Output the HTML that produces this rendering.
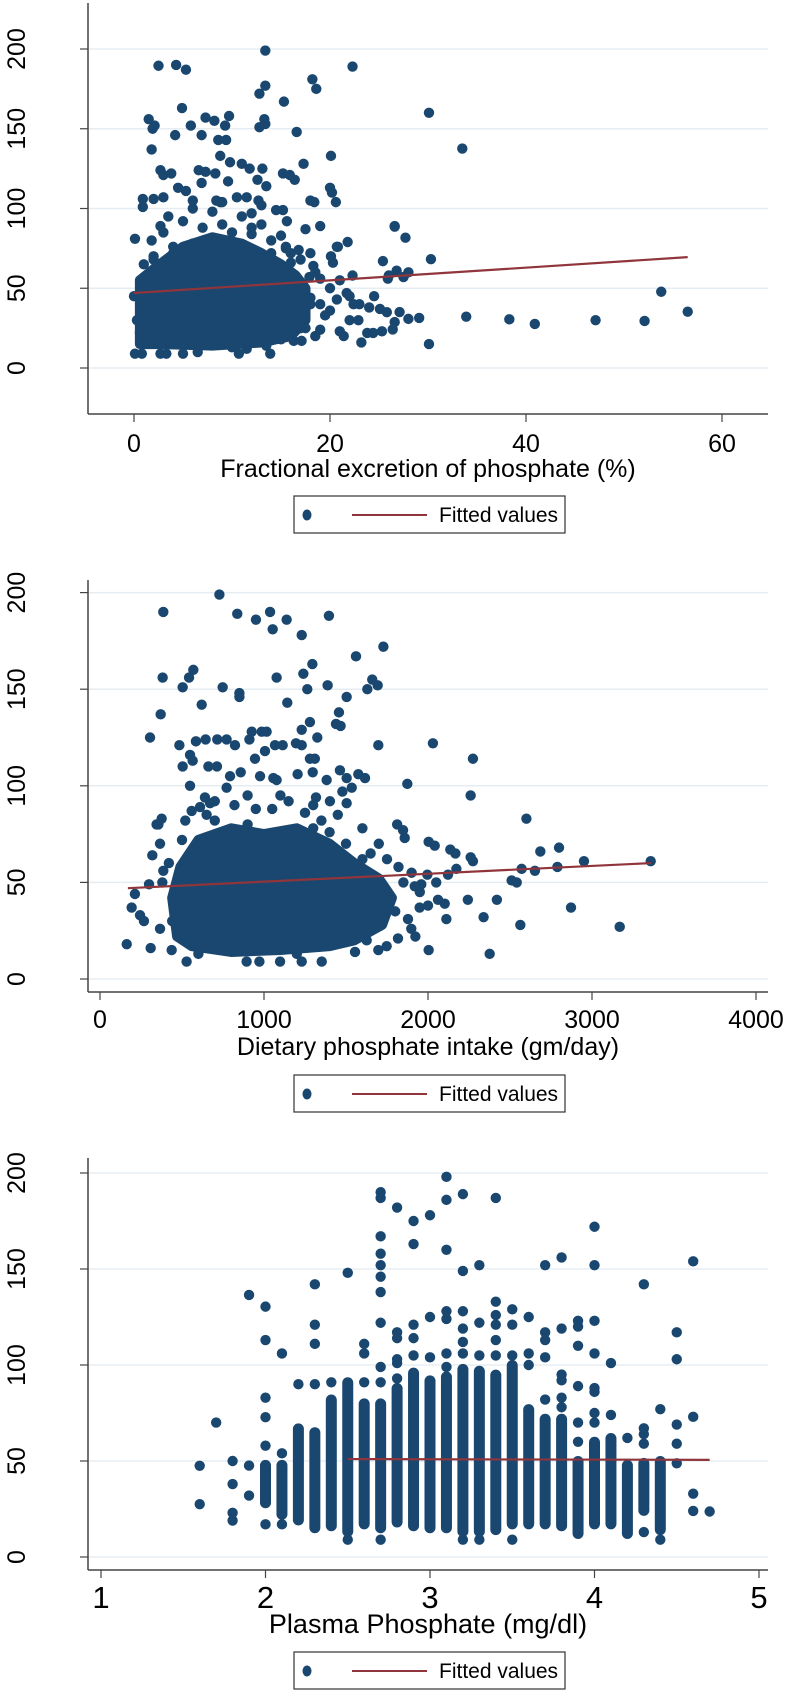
<!DOCTYPE html>
<html><head><meta charset="utf-8"><style>
body{margin:0;background:#fff}
svg{display:block}
text{font-family:"Liberation Sans",Arial,sans-serif;fill:#000}
.nar{font-family:"Liberation Sans Narrow","Liberation Sans",Arial,sans-serif}
</style></head><body>
<svg id="fig" width="788" height="1692" viewBox="0 0 788 1692" xmlns="http://www.w3.org/2000/svg"></svg>
<script>
// ---------- Panel 1 data: Fractional excretion of phosphate (%) ----------
const p1X = [2.5,4.3,5.3,13.4,13.4,12.8,22.3,18.2,18.6,15.3,4.9,1.5,1.9,2.1,7.3,8.2,9.7,9.3,13.3,12.8,13.4,5.8,4.2,6.9,16.6,1.8,8.6,9.4,20.1,17.3,8.8,9.8,11,11.8,13.1,2.7,3,3.8,6.6,7.3,8.3,6.9,12.6,9.6,13.5,15.2,15.9,16.4,4.5,5.3,20,20.2,20.6,0.9,0.9,2,3,6,8.4,8.8,10.5,11.5,18,18.4,3.5,12.7,13,14.5,15.2,15.6,0.1,1.8,2.7,19,17.5,21.8,20.8,15.5,22.3,30.1,33.5,26.6,27.7,30.3,26,26.8,27.5,28,53.8,56.5,52.1,47.1,40.9,38.3,33.9,30.1,29.1,28,27.1,26.6,26.4,23.2,23.8,24.4,25.3,25.1,25.8,25.4,26.6,25.9,22.9,22.4,21.4,21,21.7,20.7,20,19,18.5,19.5,20.3,20.7,20.1,18.3,17.9,16.3,17.1,13.9,10.7,5,2.7,3.3,0.1,0.8,2,4,6,7,9,10,12,14,16,11,8,5,3,13,6,9,12,15,17,18,19,20,21,22,23,24,19,17,18,24.5,22,0.5,1,16,17.5,14,1,2,4,14,16,17,18,17,0,0.3,15,10,5,1.5,3.5,12,15.5,18.5,0.6,2.8,6.5,11.5,13.5,16.8];
const p1Y = [189.5,190,187,199,177,172,189,181,175,167,163,156,150,152,157,155,158,152,156,151,153,152,146,146,148,137,143,143,133,128,133,129,128,125,125,124,121,122,124,123,122,116,118,117,114,122,121,118,113,111,113,110,104,106,101,106,107,105,105,104,107,107,105,104,95,105,102,99,99,92,81,80,89,89,87,79,76,75,58,160,137.6,88.6,81.7,68.2,58,61,57,60,47.8,35.3,29.5,30,27.6,30.5,32.2,15,31.4,30.8,35.1,28.8,24.2,16,22,22,23,37,35,67,89,56,30,40,20,23,47,43,36,24,20,33,66,76,70,64,57,17,17,9,9,9,9,9,9,9,68,72,78,88,90,85,88,80,72,95,98,92,85,90,100,104,97,83,68,72,56,50,55,45,40,38,40,35,44,45,30,30,45,20,25,58,65,70,76,72,66,50,40,25,45,30,18,13,14,58,62,84,76,60,22,16,10,12,14,74];
// dense core outline (x %, y value)
const p1CoreX = [0.6,0.6,2,5,8,11,13,15,16.5,17.5,17.5,16,13,8,3];
const p1CoreY = [15,55,62,76,82,78,72,65,58,50,30,20,16,14,15];
const p1Fit = {x:[0,56.5], y:[47,69.5]};
const p1XTicks = [0,20,40,60];
const p1YTicks = [0,50,100,150,200];

// ---------- Panel 2 data: Dietary phosphate intake ----------
const p2X = [728,386,837,951,1037,1053,1138,1230,1396,1728,1561,1295,1240,1077,382,543,569,504,748,1388,1264,850,850,1504,1630,1660,1693,1142,620,1457,1439,1467,370,305,1280,1230,1325,1697,925,986,1016,484,585,644,715,772,823,911,1067,1114,1195,1230,504,549,565,661,713,945,1006,1280,1310,549,793,858,976,1057,1077,1205,1297,1382,1463,1504,1575,1616,1535,1478,1317,772,640,671,610,559,345,376,1504,1402,2030,2274,1874,2260,2600,1812,1848,1858,2004,2041,2136,2167,2685,2799,2951,3358,2260,2274,2571,2652,2789,2510,2541,2122,2173,1996,2243,2420,2872,2339,2563,3169,2376,2004,2112,2061,2102,1949,2000,1919,1959,1898,1923,1817,1878,163,309,213,193,268,244,299,319,366,356,386,528,894,972,1098,1230,1352,1555,1504,1626,1697,1748,366,437,520,650,700,820,900,950,1050,1100,1150,1250,1300,1350,1450,1600,1650,1700,1750,1820,1900,1950,2050,1850,1700,1800,420,380,500,700,1300,1500,1650,1700,1200,600,440,1600,1750,900,1400,470];
const p2Y = [199,190,189,186,190,181,186,178,188,172,167,163,158,156,156,156,160,151,151,152,150,148,146,146,150,155,152,143,142,138,132,131,137,125,133,129,125,121,128,128,128,121,123,124,124,124,121,124,121,121,122,121,110,116,113,110,110,114,118,114,114,100,105,107,105,104,103,106,107,103,108,104,106,104,99,97,94,99,94,91,89,87,80,83,91,92,122,114,101,95,83,80,77,73,71,69,67,65,66,68,61,61,63,61,57,56,58,51,50,54,57,54,41,41,37,32,28,27,13,15,31,41,39,37,38,48,49,26,22,21,31,18,16,44,37,30,33,49,64,70,80,56,9,9,9,9,9,9,14,24,20,15,17,26,15,82,85,92,90,95,88,88,95,92,86,90,82,85,78,65,70,62,58,55,45,50,50,40,35,60,50,72,82,78,70,50,30,13,13,30,62,45,80,76,25];
const p2CoreX = [470,440,490,600,800,1000,1200,1400,1550,1700,1780,1720,1550,1400,1100,800,560];
const p2CoreY = [22,42,58,72,78,75,78,70,60,52,42,28,20,17,15,14,17];
const p2Fit = {x:[170,3360], y:[47,60]};
const p2XTicks = [0,1000,2000,3000,4000];
const p2YTicks = [0,50,100,150,200];

// ---------- Panel 3 data: Plasma phosphate (mg/dl) ----------
const p3ColX  = [2.0,2.1,2.2,2.3,2.4,2.5,2.6,2.7,2.8,2.9,3.0,3.1,3.2,3.3,3.4,3.5,3.6,3.7,3.8,3.9,4.0,4.1,4.2,4.3,4.4];
const p3ColLo = [28,22,19,15,16,13,17,15,18,16,15,15,13,13,14,17,17,17,16,12,17,17,12,24,14];
const p3ColHi = [48,48,67,65,82,91,80,80,88,96,92,94,98,97,95,100,77,72,72,50,60,62,48,49,50];
const p3X = [1.6,1.6,1.7,1.8,1.8,1.8,1.8,1.9,1.9,1.9,2.0,2.0,2.0,2.0,2.0,2.0,2.0,2.1,2.1,2.1,2.2,2.3,2.3,2.3,2.3,2.4,2.5,2.5,2.6,2.6,2.6,2.7,2.7,2.7,2.7,2.7,2.7,2.7,2.7,2.7,2.7,2.7,2.8,2.8,2.8,2.8,2.8,2.8,2.9,2.9,2.9,2.9,2.9,3.0,3.0,3.0,3.1,3.1,3.1,3.1,3.1,3.1,3.1,3.2,3.2,3.2,3.2,3.2,3.2,3.2,3.3,3.3,3.3,3.3,3.4,3.4,3.4,3.4,3.4,3.4,3.5,3.5,3.5,3.5,3.6,3.6,3.6,3.7,3.7,3.7,3.7,3.7,3.8,3.8,3.8,3.8,3.8,3.8,3.9,3.9,3.9,3.9,3.9,3.9,4.0,4.0,4.0,4.0,4.0,4.0,4.0,4.0,4.1,4.1,4.2,4.3,4.3,4.3,4.3,4.3,4.4,4.4,4.5,4.5,4.5,4.5,4.5,4.6,4.6,4.6,4.6,4.7];
const p3Y = [47.5,27.5,70,50,38,23,19,47.6,32,136.5,130.4,113,83,72.8,58,46.5,17,106,54,17,90,142,121,111,90,91,148,9,111,106,91,190,187,167,158,152,146,138,122,99,91,9,182,117,114,103,101,93,175,163,121,114,105,178,125,104,198,186,160,128,124,106,99,189,149,128,119,112,106,9,152,122,105,9,187,133,126,121,113,105,129,121,105,9,125,106,100,152,117,113,104,82,156,119,95,92,83,78,123,120,110,89,70,60,172,152,123,106,88,86,75,70,101,74,62,142,67,64,59,13,77,9,117,103,69,59,48.8,154,73,33,24,23.7];
const p3Fit = {x:[2.5,4.7], y:[51,50.6]};
const p3XTicks = [1,2,3,4,5];
const p3YTicks = [0,50,100,150,200];

const NS = "http://www.w3.org/2000/svg";
const svg = document.getElementById("fig");
const DOT = "#1a476f", FIT = "#90353b", GRID = "#e5edf3";
function mk(tag, attrs, parent){const e=document.createElementNS(NS,tag);for(const k in attrs)e.setAttribute(k,attrs[k]);(parent||svg).appendChild(e);return e;}

function panel(cfg){
  const g = mk("g",{});
  
  
  const sx = v => cfg.x0 + (v - cfg.xv0) * cfg.kx;
  const sy = v => cfg.y0 - v * cfg.ky;
  cfg.yTicks.forEach(t=>{
    const l = mk("line",{x1:88,x2:768,y1:sy(t),y2:sy(t),stroke:GRID,"stroke-width":1.5},g);
    
    
  });
  const ya = mk("line",{x1:88,x2:88,y1:cfg.axTop,y2:cfg.axY,stroke:"#444","stroke-width":1.5},g);
  
  
  const xa = mk("line",{x1:88,x2:768,y1:cfg.axY,y2:cfg.axY,stroke:"#444","stroke-width":1.5},g);
  
  
  cfg.yTicks.forEach(t=>{
    mk("line",{x1:80,x2:88,y1:sy(t),y2:sy(t),stroke:"#444","stroke-width":1.2},g);
    const tx = mk("text",{x:0,y:0,transform:`translate(25,${sy(t)}) rotate(-90)`,"text-anchor":"middle","font-size":25},g);
    tx.textContent = t;
    
    
  });
  cfg.xTicks.forEach(t=>{
    mk("line",{x1:sx(t),x2:sx(t),y1:cfg.axY,y2:cfg.axY+8,stroke:"#444","stroke-width":1.2},g);
    const tx = mk("text",{x:sx(t),y:cfg.tickBase,"text-anchor":"middle","font-size":cfg.tickSize,class:cfg.narrow?"nar":""},g);
    tx.textContent = t;
    
    
  });
  const tt = mk("text",{x:428,y:cfg.titleBase,"text-anchor":"middle","font-size":cfg.titleSize,class:cfg.narrow?"nar":""},g);
  tt.textContent = cfg.title;
  
  
  if(cfg.coreX){
    const pts = cfg.coreX.map((v,i)=>sx(v)+","+sy(cfg.coreY[i])).join(" ");
    const poly = mk("polygon",{points:pts,fill:DOT,stroke:DOT,"stroke-width":10,"stroke-linejoin":"round"},g);
    
    
  }
  if(cfg.colX){
    cfg.colX.forEach((v,i)=>{
      const top = sy(cfg.colHi[i]), bot = sy(cfg.colLo[i]);
      const r = mk("rect",{x:sx(v)-5.5,y:top-5,width:11,height:bot-top+10,rx:5.5,fill:DOT},g);
      
      
    });
  }
  cfg.px.forEach((v,i)=>{
    const c = mk("circle",{cx:sx(v),cy:sy(cfg.py[i]),r:5.2,fill:DOT},g);
    
    
  });
  const fl = mk("line",{x1:sx(cfg.fit.x[0]),y1:sy(cfg.fit.y[0]),x2:sx(cfg.fit.x[1]),y2:sy(cfg.fit.y[1]),stroke:FIT,"stroke-width":2.2},g);
  
  
  const lg = mk("g",{},g);
  
  
  const ly = cfg.legTop;
  mk("rect",{x:294,y:ly,width:271,height:37,fill:"#fff",stroke:"#333","stroke-width":1.2},lg);
  const ld = mk("ellipse",{cx:307,cy:ly+19,rx:4.5,ry:5.5,fill:DOT},lg);
  
  
  const ll = mk("line",{x1:352,x2:427,y1:ly+19,y2:ly+19,stroke:FIT,"stroke-width":2},lg);
  
  
  const lt = mk("text",{x:439,y:ly+26,"font-size":21,class:"nar"},lg);
  lt.textContent = "Fitted values";
  
  
}

panel({name:"panel-fractional-excretion",x0:134,xv0:0,kx:9.8,y0:368,ky:1.595,axTop:3,axY:414,
  xTicks:p1XTicks,yTicks:p1YTicks,tickBase:452,tickSize:25,titleBase:477,titleSize:25,
  title:"Fractional excretion of phosphate (%)",coreX:p1CoreX,coreY:p1CoreY,px:p1X,py:p1Y,fit:p1Fit,legTop:496});
panel({name:"panel-dietary-intake",x0:100,xv0:0,kx:0.164,y0:979,ky:1.932,axTop:580,axY:992,
  xTicks:p2XTicks,yTicks:p2YTicks,tickBase:1028,tickSize:25,titleBase:1055,titleSize:25,
  title:"Dietary phosphate intake (gm/day)",coreX:p2CoreX,coreY:p2CoreY,px:p2X,py:p2Y,fit:p2Fit,legTop:1075});
panel({name:"panel-plasma-phosphate",x0:101,xv0:1,kx:164.5,y0:1557,ky:1.92,axTop:1158,axY:1570,
  xTicks:p3XTicks,yTicks:p3YTicks,tickBase:1608,tickSize:31,titleBase:1633,titleSize:27,narrow:true,
  title:"Plasma Phosphate (mg/dl)",colX:p3ColX,colLo:p3ColLo,colHi:p3ColHi,px:p3X,py:p3Y,fit:p3Fit,legTop:1652});
</script>
</body></html>
